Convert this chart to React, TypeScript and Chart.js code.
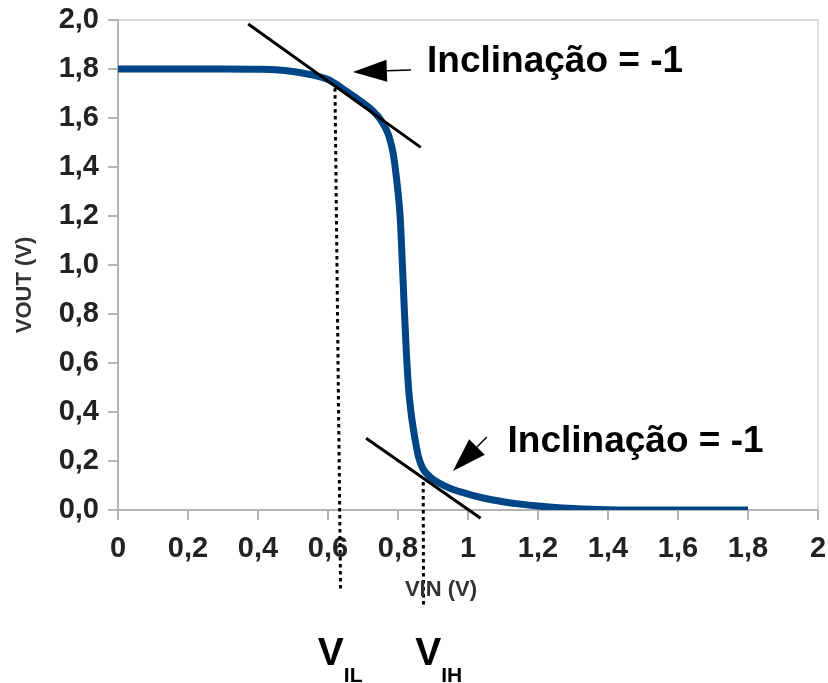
import React, { useEffect, useRef } from "react";
import { Chart, registerables } from "chart.js";

Chart.register(...registerables);

// Transfer curve of the inverter (VIN -> VOUT)
const vin = [0, 0.1, 0.2, 0.3, 0.4, 0.45, 0.5, 0.55, 0.6, 0.65, 0.7, 0.73, 0.75, 0.77, 0.778, 0.786, 0.796, 0.806, 0.812, 0.818, 0.824, 0.83, 0.837, 0.844, 0.851, 0.858, 0.87, 0.89, 0.92, 0.95, 1.0, 1.05, 1.1, 1.15, 1.2, 1.25, 1.3, 1.35, 1.4, 1.5, 1.6, 1.7, 1.8];
const vout = [1.8, 1.8, 1.8, 1.8, 1.799, 1.797, 1.79, 1.777, 1.757, 1.712, 1.662, 1.627, 1.594, 1.542, 1.507, 1.457, 1.35, 1.2, 1.02, 0.82, 0.64, 0.5, 0.4, 0.33, 0.27, 0.22, 0.172, 0.137, 0.108, 0.088, 0.065, 0.047, 0.034, 0.024, 0.016, 0.01, 0.006, 0.003, 0.0015, 0, 0, 0, 0];

const xTickLabels = ["0", "0,2", "0,4", "0,6", "0,8", "1", "1,2", "1,4", "1,6", "1,8", "2"];
const yTickLabels = ["0,0", "0,2", "0,4", "0,6", "0,8", "1,0", "1,2", "1,4", "1,6", "1,8", "2,0"];

// Tangent lines (slope -1) : [x0, x1], [y0, y1]
const tangentILx = [0.372, 0.865];
const tangentILy = [1.984, 1.48];
const tangentIHx = [0.709, 1.036];
const tangentIHy = [0.293, -0.034];

// Dotted markers for VIL and VIH
const dottedILx = [0.62, 0.636];
const dottedILy = [1.722, -0.335];
const dottedIHx = [0.872, 0.873];
const dottedIHy = [0.114, -0.4];

// Arrows: tail -> tip (data coords)
const arrowILx = [0.837, 0.671];
const arrowILy = [1.796, 1.788];
const arrowIHx = [1.054, 0.957];
const arrowIHy = [0.298, 0.159];

// Annotation text anchors (left, baseline)
const noteText = "Inclinação = -1";
const noteX = [0.883, 1.113];
const noteY = [1.789, 0.238];

// V_IL / V_IH labels
const vLabelMain = ["V", "V"];
const vLabelSub = ["IL", "IH"];
const vLabelX = [0.571, 0.849];

const FONT = '"Liberation Sans", Arial, sans-serif';

function pts(xs: number[], ys: number[]) {
  return xs.map((x, i) => ({ x, y: ys[i] }));
}

function drawArrow(ctx: CanvasRenderingContext2D, x0: number, y0: number, x1: number, y1: number) {
  const dx = x1 - x0, dy = y1 - y0;
  const len = Math.hypot(dx, dy);
  const ux = dx / len, uy = dy / len;
  const headLen = 34, headW = 11;
  const bx = x1 - ux * headLen, by = y1 - uy * headLen;
  ctx.strokeStyle = "#000";
  ctx.lineWidth = 1.5;
  ctx.beginPath();
  ctx.moveTo(x0, y0);
  ctx.lineTo(bx, by);
  ctx.stroke();
  ctx.fillStyle = "#000";
  ctx.beginPath();
  ctx.moveTo(x1, y1);
  ctx.lineTo(bx - uy * headW, by + ux * headW);
  ctx.lineTo(bx + uy * headW, by - ux * headW);
  ctx.closePath();
  ctx.fill();
}

const overlay = {
  id: "overlay",
  beforeDatasetsDraw(chart: any) {
    const { ctx, chartArea: a } = chart;
    ctx.save();
    ctx.strokeStyle = "#d0d0d0";
    ctx.lineWidth = 1.5;
    ctx.beginPath();
    ctx.moveTo(a.left, a.top);
    ctx.lineTo(a.right, a.top);
    ctx.lineTo(a.right, a.bottom);
    ctx.stroke();
    ctx.restore();
  },
  afterDraw(chart: any) {
    const { ctx, chartArea: a, scales } = chart;
    const xs = scales.x, ys = scales.y;
    ctx.save();
    // axis titles
    ctx.fillStyle = "#333";
    ctx.font = `bold 22px ${FONT}`;
    ctx.textAlign = "center";
    ctx.textBaseline = "middle";
    ctx.fillText("VIN (V)", a.left + 323, a.bottom + 80);
    ctx.save();
    ctx.translate(a.left - 93, (a.top + a.bottom) / 2 + 20);
    ctx.rotate(-Math.PI / 2);
    ctx.fillText("VOUT (V)", 0, 0);
    ctx.restore();

    // arrows
    drawArrow(ctx, xs.getPixelForValue(arrowILx[0]), ys.getPixelForValue(arrowILy[0]), xs.getPixelForValue(arrowILx[1]), ys.getPixelForValue(arrowILy[1]));
    drawArrow(ctx, xs.getPixelForValue(arrowIHx[0]), ys.getPixelForValue(arrowIHy[0]), xs.getPixelForValue(arrowIHx[1]), ys.getPixelForValue(arrowIHy[1]));

    // notes
    ctx.fillStyle = "#000";
    ctx.textAlign = "left";
    ctx.textBaseline = "alphabetic";
    ctx.font = `bold 37px ${FONT}`;
    for (let i = 0; i < noteX.length; i++) {
      ctx.fillText(noteText, xs.getPixelForValue(noteX[i]), ys.getPixelForValue(noteY[i]));
    }

    // V labels
    for (let i = 0; i < vLabelMain.length; i++) {
      const px = xs.getPixelForValue(vLabelX[i]);
      ctx.font = `bold 39px ${FONT}`;
      ctx.fillText(vLabelMain[i], px, a.bottom + 155);
      const w = ctx.measureText(vLabelMain[i]).width;
      ctx.font = `bold 21px ${FONT}`;
      ctx.fillText(vLabelSub[i], px + w, a.bottom + 172);
    }
    ctx.restore();
  },
};

export default function App() {
  const ref = useRef<HTMLCanvasElement>(null);
  useEffect(() => {
    const chart = new Chart(ref.current!, {
      type: "line",
      data: {
        datasets: [
          {
            data: pts(vin, vout),
            borderColor: "#004586",
            borderWidth: 7,
            pointRadius: 0,
            cubicInterpolationMode: "monotone",
            fill: false,
            order: 3,
          },
          {
            data: pts(dottedILx, dottedILy),
            borderColor: "#000",
            borderWidth: 3,
            borderDash: [3.5, 3.5],
            pointRadius: 0,
            clip: false,
            order: 2,
          },
          {
            data: pts(dottedIHx, dottedIHy),
            borderColor: "#000",
            borderWidth: 3,
            borderDash: [3.5, 3.5],
            pointRadius: 0,
            clip: false,
            order: 2,
          },
          {
            data: pts(tangentILx, tangentILy),
            borderColor: "#000",
            borderWidth: 3,
            pointRadius: 0,
            clip: false,
            order: 1,
          },
          {
            data: pts(tangentIHx, tangentIHy),
            borderColor: "#000",
            borderWidth: 3,
            pointRadius: 0,
            clip: false,
            order: 1,
          },
        ],
      },
      options: {
        responsive: false,
        animation: false,
        layout: { padding: { left: 0, top: 20, right: 10, bottom: 0 } },
        plugins: { legend: { display: false }, tooltip: { enabled: false } },
        scales: {
          x: {
            type: "linear",
            min: 0,
            max: 2,
            afterFit: (s: any) => { s.height = 173; s.paddingLeft = 0; s.paddingRight = 0; },
            border: { display: true, color: "#b3b3b3", width: 2 },
            grid: { drawOnChartArea: false, drawTicks: true, tickLength: 10, color: "#b3b3b3", lineWidth: 2 },
            ticks: {
              stepSize: 0.2,
              padding: 12,
              color: "#222",
              font: { family: FONT, size: 29, weight: "bold" },
              maxRotation: 0,
              autoSkip: false,
              callback: (_v: any, i: number) => xTickLabels[i],
            },
          },
          y: {
            type: "linear",
            min: 0,
            max: 2,
            afterFit: (s: any) => { s.width = 118; s.paddingTop = 0; s.paddingBottom = 0; },
            border: { display: true, color: "#b3b3b3", width: 2 },
            grid: { drawOnChartArea: false, drawTicks: true, tickLength: 10, color: "#b3b3b3", lineWidth: 2 },
            ticks: {
              stepSize: 0.2,
              padding: 9,
              color: "#222",
              font: { family: FONT, size: 29, weight: "bold" },
              autoSkip: false,
              callback: (_v: any, i: number) => yTickLabels[i],
            },
          },
        },
      },
      plugins: [overlay],
    } as any);
    return () => chart.destroy();
  }, []);
  return (
    <div style={{ position: "absolute", left: 0, top: 0, width: 828, height: 683 }}>
      <canvas ref={ref} width={828} height={683} style={{ display: "block" }} />
    </div>
  );
}
